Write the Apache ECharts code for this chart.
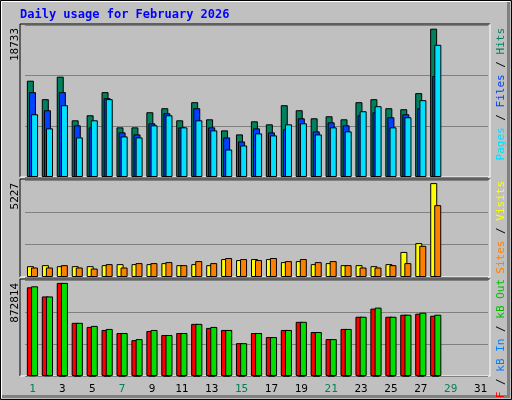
<!DOCTYPE html>
<html>
<head>
<meta charset="utf-8">
<script src="https://cdn.jsdelivr.net/npm/echarts@6/dist/echarts.min.js"></script>
<style>
  html, body { margin: 0; padding: 0; background: #c0c0c0; }
  #chart { width: 512px; height: 400px; }
</style>
</head>
<body>
<div id="chart"></div>
<script>
// Daily usage, February 2026
const days = ['1','2','3','4','5','6','7','8','9','10','11','12','13','14','15','16','17','18','19','20','21','22','23','24','25','26','27','28','29','30','31'];
const weekendDays = ['1','7','8','14','15','21','22','28','29'];

const hits = [12164, 9832, 12672, 7162, 7798, 10722, 6272, 6272, 8180, 8688, 7162, 9451, 7289, 5891, 5382, 7035, 6654, 9069, 8434, 7417, 7671, 7289, 9451, 9832, 8688, 8561, 10595, 18733];
const files = [10722, 8434, 10722, 6527, 6272, 9959, 5637, 5382, 6781, 8052, 6272, 8688, 6272, 5001, 4492, 6145, 5637, 6018, 7417, 5764, 6908, 6527, 7798, 8180, 7544, 7925, 8688, 12756];
const pages = [7925, 6145, 9069, 5001, 7162, 9832, 5128, 5001, 6527, 7798, 6272, 7162, 5891, 3475, 3984, 5509, 5255, 6654, 6781, 5382, 6272, 5764, 8307, 8942, 6272, 7544, 9705, 16698];

const visits = [604, 660, 604, 604, 604, 660, 717, 717, 717, 774, 660, 717, 660, 1000, 943, 1000, 1000, 830, 887, 717, 774, 660, 660, 604, 717, 1396, 1887, 5227];
const sites = [528, 528, 660, 528, 472, 717, 528, 774, 774, 830, 660, 887, 774, 1057, 1000, 943, 1057, 887, 1000, 830, 887, 660, 528, 528, 660, 774, 1736, 4000];

const kbF = [831588, 745890, 872814, 498318, 460230, 431664, 403098, 336444, 422142, 384054, 403098, 488796, 450708, 431664, 307878, 403098, 365010, 431664, 507840, 412620, 345966, 441186, 555450, 631626, 555450, 574494, 584016, 564972];
const kbIn = [6000, 6000, 0, 0, 0, 0, 0, 0, 0, 0, 0, 0, 0, 0, 0, 0, 0, 0, 0, 0, 0, 0, 0, 0, 0, 0, 0, 0];
const kbOut = [841110, 745890, 872814, 498318, 469752, 441186, 403098, 345966, 431664, 384054, 403098, 488796, 460230, 431664, 307878, 403098, 365010, 431664, 507840, 412620, 345966, 441186, 555450, 641148, 555450, 574494, 593538, 574494];

const FONT = 'DejaVu Sans Mono';
const panels = [
    { top: 25, height: 152, max: 19200, label: '18733' },
    { top: 180, height: 97, max: 5400, label: '5227' },
    { top: 280, height: 96, max: 900000, label: '872814' }
];

const chart = echarts.init(document.getElementById('chart'));

const grids = panels.map(p => ({ left: 25, right: 24, top: p.top, height: p.height }));
const xAxes = panels.map((p, i) => ({
    type: 'category',
    data: days,
    gridIndex: i,
    axisLine: { show: false },
    axisTick: { show: false },
    axisLabel: i === 2 ? {
        show: true,
        margin: 8,
        fontFamily: FONT,
        fontSize: 11,
        color: v => weekendDays.includes(v) ? '#00805c' : '#000'
    } : { show: false }
}));
const yAxes = panels.map((p, i) => ({
    type: 'value',
    gridIndex: i,
    min: 0,
    max: p.max,
    interval: p.max / 3,
    axisLabel: { show: false },
    axisLine: { show: false },
    axisTick: { show: false },
    splitLine: { show: true, lineStyle: { color: '#808080', width: 1 } }
}));

function bar(name, data, color, grid, gap) {
    return {
        name: name,
        type: 'bar',
        xAxisIndex: grid,
        yAxisIndex: grid,
        data: data,
        barWidth: 7,
        barGap: gap,
        animation: false,
        itemStyle: { color: color, borderColor: '#000', borderWidth: 1 }
    };
}

// frames around each plot (dark top/left, white bottom/right)
const frames = [];
panels.forEach(p => {
    const x0 = 20, x1 = 490, y0 = p.top - 1, y1 = p.top + p.height;
    frames.push({ type: 'line', shape: { x1: x0, y1: y0, x2: x1, y2: y0 }, style: { stroke: '#000', lineWidth: 1 } });
    frames.push({ type: 'line', shape: { x1: x0, y1: y0, x2: x0, y2: y1 }, style: { stroke: '#000', lineWidth: 1 } });
    frames.push({ type: 'line', shape: { x1: x0, y1: y1, x2: x1, y2: y1 }, style: { stroke: '#fff', lineWidth: 1 } });
    frames.push({ type: 'line', shape: { x1: x1, y1: y0, x2: x1, y2: y1 }, style: { stroke: '#fff', lineWidth: 1 } });
    frames.push({
        type: 'text', x: 15, y: p.top + 3, rotation: Math.PI / 2,
        style: { text: p.label, font: '11px ' + FONT, fill: '#000', align: 'right', verticalAlign: 'middle' }
    });
});

function legend(y, parts) {
    const rich = {};
    let text = '';
    parts.forEach((pt, i) => {
        const key = 'p' + i;
        rich[key] = { fill: pt[1], fontFamily: FONT, fontSize: 11 };
        text += '{' + key + '|' + pt[0] + '}';
    });
    return {
        type: 'text', x: 501, y: y, rotation: Math.PI / 2,
        style: { text: text, rich: rich, align: 'right', verticalAlign: 'middle' }
    };
}

const option = {
    backgroundColor: '#c0c0c0',
    animation: false,
    grid: grids,
    xAxis: xAxes,
    yAxis: yAxes,
    graphic: [
        // outer bevel
        { type: 'rect', shape: { x: 0.5, y: 0.5, width: 511, height: 399 }, style: { fill: null, stroke: '#000', lineWidth: 1 } },
        { type: 'polyline', shape: { points: [[1.5, 398], [1.5, 1.5], [510, 1.5]] }, style: { fill: null, stroke: '#fff', lineWidth: 1 } },
        { type: 'polyline', shape: { points: [[2, 396.5], [508.5, 396.5], [508.5, 2]] }, style: { fill: null, stroke: '#808080', lineWidth: 3 } },
        {
            type: 'text', x: 20, y: 15,
            style: { text: 'Daily usage for February 2026', font: 'bold 12px ' + FONT, fill: '#0000ff', verticalAlign: 'middle' }
        },
        ...frames,
        legend(28, [['Pages', '#00e0ff'], [' / ', '#000'], ['Files', '#0040ff'], [' / ', '#000'], ['Hits', '#00805c']]),
        legend(181, [['Sites', '#ff8000'], [' / ', '#000'], ['Visits', '#ffff00']]),
        legend(279, [['kB F', '#ff0000'], [' / ', '#000'], ['kB In', '#0080ff'], [' / ', '#000'], ['kB Out', '#00c000']])
    ],
    series: [
        bar('Hits', hits, '#00805c', 0, '-70%'),
        bar('Files', files, '#0040ff', 0, '-70%'),
        bar('Pages', pages, '#00e0ff', 0, '-70%'),
        bar('Visits', visits, '#ffff00', 1, '-43%'),
        bar('Sites', sites, '#ff8000', 1, '-43%'),
        bar('kB F', kbF, '#ff0000', 2, '-70%'),
        bar('kB In', kbIn, '#0080ff', 2, '-70%'),
        bar('kB Out', kbOut, '#00e000', 2, '-70%')
    ]
};

chart.setOption(option);
</script>
</body>
</html>
